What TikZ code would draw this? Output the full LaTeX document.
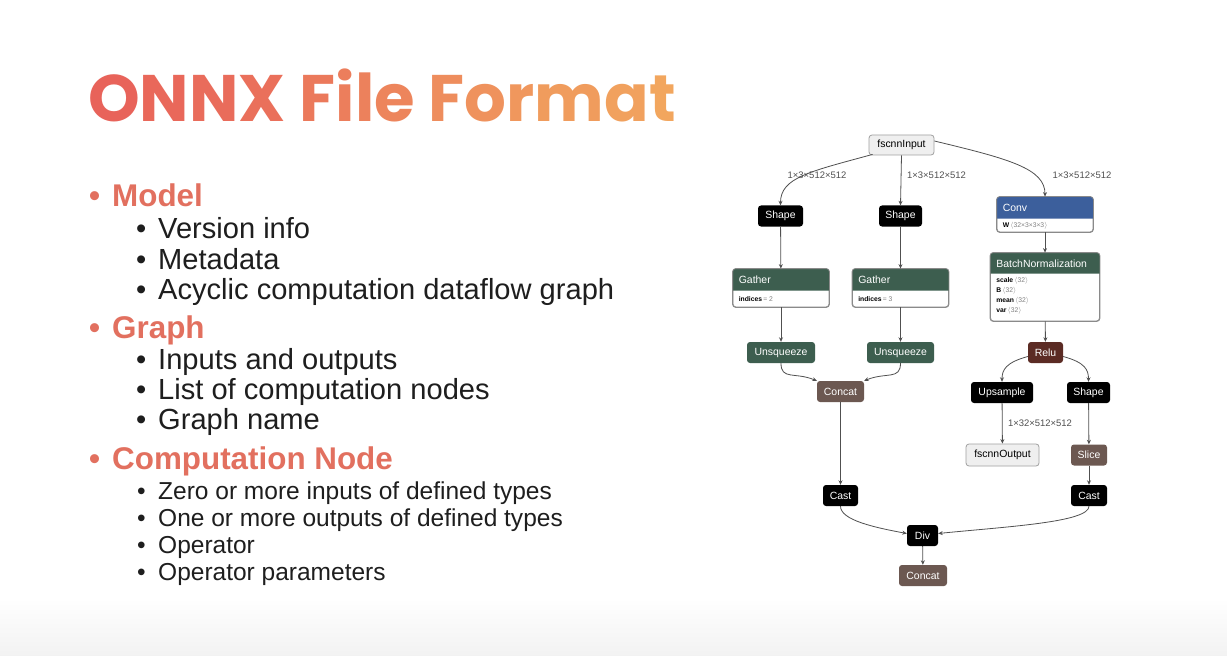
\documentclass[tikz,border=0pt]{standalone}
\usepackage{fontspec}
\setmainfont{Liberation Sans}
\newfontfamily\titlefont{Poppins}
\usetikzlibrary{arrows.meta}
\definecolor{tA}{HTML}{E8635A}
\definecolor{tB}{HTML}{F2A65E}
\definecolor{headc}{HTML}{E2705F}
\definecolor{bodyc}{HTML}{1E1E1E}
\definecolor{edgec}{HTML}{505050}
\definecolor{convc}{HTML}{3C5F9C}
\definecolor{greenc}{HTML}{3D5E4F}
\definecolor{reluc}{HTML}{5B2B24}
\definecolor{shapec}{HTML}{6C5851}
\definecolor{iofill}{HTML}{EFEFEF}
\definecolor{iodraw}{HTML}{A0A0A0}
\definecolor{boxdraw}{HTML}{8A8A8A}
\definecolor{attrgray}{HTML}{808080}
\newcommand\attr[2]{\textbf{#1}\,\textcolor{attrgray}{#2}}
\newcommand\lb{\ensuremath{\langle}}
\newcommand\rb{\ensuremath{\rangle}}
\begin{document}
\begin{tikzpicture}[x=1bp,y=-1bp,
  head/.style={anchor=base west, inner sep=0, font=\bfseries\fontsize{31.5}{32}\selectfont, text=headc},
  itemA/.style={anchor=base west, inner sep=0, font=\fontsize{29.2}{30}\selectfont, text=bodyc},
  itemB/.style={anchor=base west, inner sep=0, font=\fontsize{24.6}{25}\selectfont, text=bodyc},
  gnode/.style={rounded corners=3bp, inner sep=0, minimum height=21bp, font=\fontsize{10.5}{11}\selectfont, text=white},
  blk/.style={gnode, fill=black},
  grn/.style={gnode, fill=greenc},
  rel/.style={gnode, fill=reluc},
  shp/.style={gnode, fill=shapec},
  io/.style={gnode, fill=iofill, draw=iodraw, line width=0.8bp, text=black, minimum height=21bp},
  box/.style={rounded corners=3bp, inner sep=0, draw=boxdraw, line width=0.8bp, fill=white},
  htext/.style={anchor=west, inner sep=0, font=\fontsize{10.5}{11}\selectfont, text=white},
  atext/.style={anchor=west, inner sep=0, font=\fontsize{6.8}{7}\selectfont, text=black},
  elabel/.style={inner sep=0, font=\fontsize{9.5}{10}\selectfont, text=edgec},
  edge/.style={draw=edgec, line width=0.8bp, -{Stealth[length=4.5bp,width=4bp]}}
]
\useasboundingbox (0,0) rectangle (1227,656);
\fill[white] (0,0) rectangle (1227,656);
\shade[top color=white, bottom color=black!5] (0,598) rectangle (1227,656);

% ---------- title ----------
\node[anchor=base west, inner sep=0, font=\titlefont\bfseries\fontsize{66}{66}\selectfont] (title) at (88,122)
 {\textcolor{tB!0!tA}{O}\textcolor{tB!7!tA}{N}\textcolor{tB!13!tA}{N}\textcolor{tB!20!tA}{X} \textcolor{tB!33!tA}{F}\textcolor{tB!40!tA}{i}\textcolor{tB!45!tA}{l}\textcolor{tB!50!tA}{e} \textcolor{tB!63!tA}{F}\textcolor{tB!70!tA}{o}\textcolor{tB!77!tA}{r}\textcolor{tB!85!tA}{m}\textcolor{tB!93!tA}{a}\textcolor{tB!100!tA}{t}};

% ---------- bullets ----------
\node[head] (b1) at (89,207) {•};
\node[head] (h1) at (112,207) {Model};
\node[itemA] (b11) at (136,239) {•};
\node[itemA] (t11) at (158,239) {Version info};
\node[itemA] (b12) at (136,269) {•};
\node[itemA] (t12) at (158,269) {Metadata};
\node[itemA] (b13) at (136,299) {•};
\node[itemA] (t13) at (158,299) {Acyclic computation dataflow graph};

\node[head] (b2) at (89,338) {•};
\node[head] (h2) at (112,338) {Graph};
\node[itemA] (b21) at (136,369) {•};
\node[itemA] (t21) at (158,369) {Inputs and outputs};
\node[itemA] (b22) at (136,399) {•};
\node[itemA] (t22) at (158,399) {List of computation nodes};
\node[itemA] (b23) at (136,429) {•};
\node[itemA] (t23) at (158,429) {Graph name};

\node[head] (b3) at (89,469) {•};
\node[head] (h3) at (112,469) {Computation Node};
\node[itemB] (b31) at (137,499) {•};
\node[itemB] (t31) at (158,499) {Zero or more inputs of defined types};
\node[itemB] (b32) at (137,526) {•};
\node[itemB] (t32) at (158,526) {One or more outputs of defined types};
\node[itemB] (b33) at (137,553) {•};
\node[itemB] (t33) at (158,553) {Operator};
\node[itemB] (b34) at (137,580) {•};
\node[itemB] (t34) at (158,580) {Operator parameters};

% ---------- graph nodes ----------
\node[io, minimum width=65bp, minimum height=20bp] (in) at (901.5,145) {fscnnInput};
\node[blk, minimum width=45bp] (sh1) at (780.5,216) {Shape};
\node[blk, minimum width=43bp] (sh2) at (900.5,216) {Shape};

% Conv box
\node[box, minimum width=96bp, minimum height=35bp] (conv) at (1045,214.5) {};
\fill[convc] ([yshift=-22bp]conv.north west) [rounded corners=3bp] -- (conv.north west) -- (conv.north east) [sharp corners] -- ([yshift=-22bp]conv.north east) -- cycle;
\draw[boxdraw, line width=0.8bp, rounded corners=3bp] (conv.north west) rectangle (conv.south east);
\node[htext] (convh) at ([xshift=6bp,yshift=-11bp]conv.north west) {Conv};
\node[atext] (conva) at ([xshift=6bp,yshift=6.5bp]conv.south west) {\attr{W}{\lb32×3×3×3\rb}};

% Gather boxes
\node[box, minimum width=96bp, minimum height=38bp] (g1) at (781,288) {};
\fill[greenc] ([yshift=-22bp]g1.north west) [rounded corners=3bp] -- (g1.north west) -- (g1.north east) [sharp corners] -- ([yshift=-22bp]g1.north east) -- cycle;
\draw[boxdraw, line width=0.8bp, rounded corners=3bp] (g1.north west) rectangle (g1.south east);
\node[htext] (g1h) at ([xshift=6bp,yshift=-11bp]g1.north west) {Gather};
\node[atext] (g1a) at ([xshift=6bp,yshift=8bp]g1.south west) {\attr{indices}{= 2}};

\node[box, minimum width=96bp, minimum height=38bp] (g2) at (900.5,288) {};
\fill[greenc] ([yshift=-22bp]g2.north west) [rounded corners=3bp] -- (g2.north west) -- (g2.north east) [sharp corners] -- ([yshift=-22bp]g2.north east) -- cycle;
\draw[boxdraw, line width=0.8bp, rounded corners=3bp] (g2.north west) rectangle (g2.south east);
\node[htext] (g2h) at ([xshift=6bp,yshift=-11bp]g2.north west) {Gather};
\node[atext] (g2a) at ([xshift=6bp,yshift=8bp]g2.south west) {\attr{indices}{= 3}};

% BatchNormalization box
\node[box, minimum width=109bp, minimum height=68bp] (bn) at (1045,287) {};
\fill[greenc] ([yshift=-21bp]bn.north west) [rounded corners=3bp] -- (bn.north west) -- (bn.north east) [sharp corners] -- ([yshift=-21bp]bn.north east) -- cycle;
\draw[boxdraw, line width=0.8bp, rounded corners=3bp] (bn.north west) rectangle (bn.south east);
\node[htext] (bnh) at ([xshift=6bp,yshift=-11bp]bn.north west) {BatchNormalization};
\node[atext] (bna1) at ([xshift=6bp,yshift=-28bp]bn.north west) {\attr{scale}{\lb32\rb}};
\node[atext] (bna2) at ([xshift=6bp,yshift=-38bp]bn.north west) {\attr{B}{\lb32\rb}};
\node[atext] (bna3) at ([xshift=6bp,yshift=-48bp]bn.north west) {\attr{mean}{\lb32\rb}};
\node[atext] (bna4) at ([xshift=6bp,yshift=-58bp]bn.north west) {\attr{var}{\lb32\rb}};

\node[grn, minimum width=68bp] (u1) at (781,352.5) {Unsqueeze};
\node[grn, minimum width=67bp] (u2) at (900.5,352.5) {Unsqueeze};
\node[rel, minimum width=35bp] (relu) at (1045.5,352.5) {Relu};
\node[shp, minimum width=47bp] (c1) at (840.5,391.5) {Concat};
\node[blk, minimum width=62bp] (ups) at (1002,392.5) {Upsample};
\node[blk, minimum width=43bp] (sh3) at (1088.5,392.5) {Shape};
\node[io, minimum width=73bp, minimum height=22bp] (out) at (1002.5,455) {fscnnOutput};
\node[shp, minimum width=36bp] (slice) at (1089,455) {Slice};
\node[blk, minimum width=35bp] (cast1) at (840.5,495.5) {Cast};
\node[blk, minimum width=36bp] (cast2) at (1089,495.5) {Cast};
\node[blk, minimum width=31bp] (div) at (922.5,535.5) {Div};
\node[shp, minimum width=48bp] (c2) at (923,575.5) {Concat};

% ---------- edges ----------
\draw[edge] ([xshift=4bp,yshift=1bp]in.south west) .. controls +(-62,17) and +(0,-28) .. (sh1.north);
\draw[edge] (in.south) -- (sh2.north);
\draw[edge] ([yshift=4bp]in.east) .. controls +(75,18) and +(0,-28) .. (conv.north);
\draw[edge] (sh1) -- (g1);
\draw[edge] (sh2) -- (g2);
\draw[edge] (conv) -- (bn);
\draw[edge] (g1) -- (u1);
\draw[edge] (g2) -- (u2);
\draw[edge] (bn) -- (relu);
\draw[edge] (u1.south) .. controls +(0,17) and +(-22,-9) .. (c1.north west);
\draw[edge] (u2.south) .. controls +(0,17) and +(22,-9) .. (c1.north east);
\draw[edge] ([yshift=-4bp]relu.west) .. controls +(-22,6) and +(0,-12) .. (ups.north);
\draw[edge] ([yshift=-4bp]relu.east) .. controls +(22,6) and +(0,-12) .. (sh3.north);
\draw[edge] (ups) -- (out);
\draw[edge] (sh3) -- (slice);
\draw[edge] (slice) -- (cast2);
\draw[edge] (c1) -- (cast1);
\draw[edge] (cast1.south) .. controls +(0,14) and +(-32,-6) .. ([yshift=2bp]div.west);
\draw[edge] (cast2.south) .. controls +(0,16) and +(70,-7) .. ([yshift=2bp]div.east);
\draw[edge] (div) -- (c2);

% ---------- edge labels ----------
\node[elabel] (l1) at (817,175) {1×3×512×512};
\node[elabel] (l2) at (936.5,175) {1×3×512×512};
\node[elabel] (l3) at (1082,175) {1×3×512×512};
\node[elabel] (l4) at (1040,423) {1×32×512×512};
\end{tikzpicture}
\end{document}
